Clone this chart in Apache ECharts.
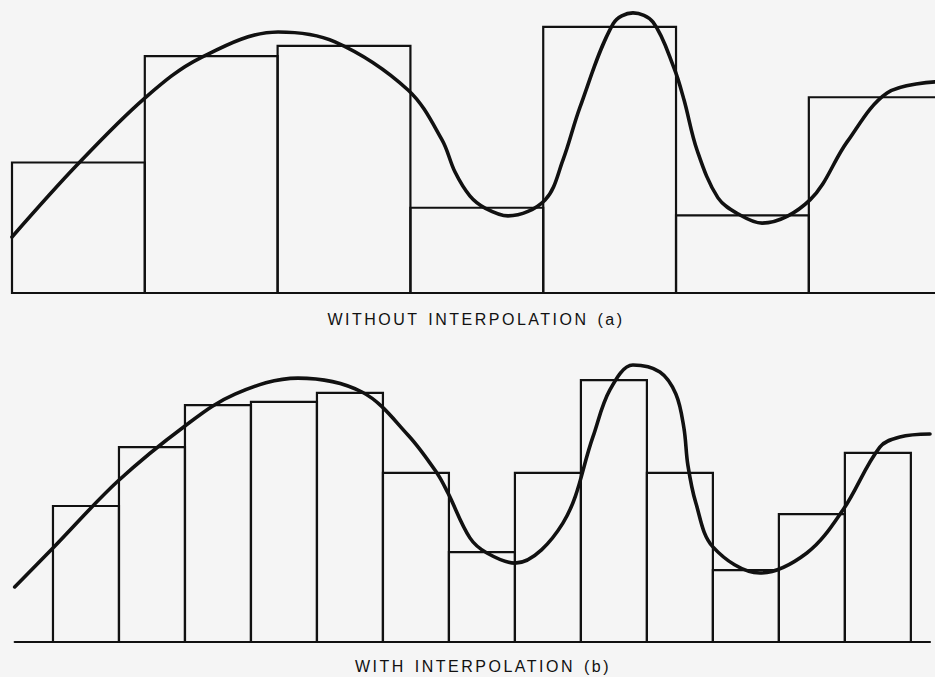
<!DOCTYPE html>
<html>
<head>
<meta charset="utf-8">
<script src="https://cdn.jsdelivr.net/npm/echarts@6/dist/echarts.min.js"></script>
<style>
  html, body { margin: 0; padding: 0; background: #f5f5f5; }
  #chart { width: 935px; height: 677px; }
  /* spaced-out caption lettering */
  #chart svg text { letter-spacing: 2.5px; word-spacing: 2px; }
</style>
</head>
<body>
<div id="chart"></div>
<script>
// (a) coarse histogram: one bin per unit interval
const topBinHeights = [45.0, 81.7, 85.2, 29.4, 91.8, 26.8, 67.5];
// (b) interpolated histogram: twice as many, narrower bins
const bottomBinHeights = [46.9, 67.2, 81.7, 82.8, 85.9, 58.3, 31.0, 58.3, 90.3, 58.3, 24.8, 44.1, 65.2];

// underlying continuous signal, sampled along each panel's x scale
const topCurveX = [0, 0.489, 1.0, 1.416, 2.003, 2.432, 2.982, 3.238, 3.336, 3.449, 3.562, 3.735, 4.014, 4.149, 4.277, 4.526, 4.676, 4.827, 4.985, 5.060, 5.158, 5.316, 5.482, 5.648, 6.009, 6.288, 6.589, 6.95];
const topCurveY = [19.3, 44.1, 67.2, 81.0, 90.0, 86.6, 70.0, 52.8, 41.7, 33.4, 29.3, 26.6, 32.1, 45.9, 64.1, 92.8, 96.6, 93.4, 77.6, 66.6, 49.3, 32.8, 26.9, 24.1, 32.1, 52.1, 69.0, 72.8];

const bottomCurveX = [-0.58, 0, 0.985, 2.0, 2.758, 3.712, 4.682, 5.379, 5.818, 5.985, 6.318, 6.576, 7.0, 7.727, 8.182, 8.439, 8.788, 9.197, 9.439, 9.561, 9.621, 9.742, 10.0, 10.712, 11.424, 11.970, 12.530, 12.833, 13.29];
const bottomCurveY = [19.0, 32.4, 55.5, 74.5, 85.5, 91.0, 86.2, 71.4, 58.3, 51.4, 35.9, 30.7, 27.2, 41.0, 70.7, 86.9, 95.5, 93.1, 85.5, 73.8, 61.0, 47.9, 32.8, 23.8, 30.7, 45.5, 67.2, 70.7, 71.7];

const captions = ['WITHOUT INTERPOLATION (a)', 'WITH INTERPOLATION (b)'];

const INK = '#111111';

function binData(heights) {
  return heights.map((h, i) => [i, i + 1, h]);
}
function curveData(xs, ys) {
  return xs.map((x, i) => [x, ys[i]]);
}

// outlined histogram bins drawn from [start, end, height]
function renderBin(params, api) {
  const base = api.coord([api.value(0), 0]);
  const top = api.coord([api.value(1), api.value(2)]);
  return {
    type: 'rect',
    shape: { x: base[0], y: top[1], width: top[0] - base[0], height: base[1] - top[1] },
    style: { fill: 'none', stroke: INK, lineWidth: 2.2 }
  };
}

const hiddenY = {
  type: 'value', min: 0, max: 100,
  axisLine: { show: false }, axisTick: { show: false },
  axisLabel: { show: false }, splitLine: { show: false }
};
function baseX(min, max) {
  return {
    type: 'value', min: min, max: max,
    axisLine: { show: true, onZero: true, lineStyle: { color: INK, width: 2.2 } },
    axisTick: { show: false }, axisLabel: { show: false }, splitLine: { show: false }
  };
}
function curveSeries(axis, xs, ys) {
  return {
    type: 'line', xAxisIndex: axis, yAxisIndex: axis, data: curveData(xs, ys),
    smooth: 0.35, showSymbol: false, z: 5,
    lineStyle: { color: INK, width: 3.6, cap: 'round', join: 'round' }
  };
}

const chart = echarts.init(document.getElementById('chart'), null, { renderer: 'svg' });
chart.setOption({
  backgroundColor: '#f5f5f5',
  animation: false,
  grid: [
    { left: 12, right: 0, top: 3, bottom: 384 },
    { left: 14.7, right: 5, top: 352, bottom: 35 }
  ],
  xAxis: [
    Object.assign({ gridIndex: 0 }, baseX(0, 6.95)),
    Object.assign({ gridIndex: 1 }, baseX(-0.58, 13.29))
  ],
  yAxis: [
    Object.assign({ gridIndex: 0 }, hiddenY),
    Object.assign({ gridIndex: 1 }, hiddenY)
  ],
  series: [
    { type: 'custom', xAxisIndex: 0, yAxisIndex: 0, renderItem: renderBin, data: binData(topBinHeights), z: 2 },
    { type: 'custom', xAxisIndex: 1, yAxisIndex: 1, renderItem: renderBin, data: binData(bottomBinHeights), z: 2 },
    curveSeries(0, topCurveX, topCurveY),
    curveSeries(1, bottomCurveX, bottomCurveY)
  ],
  graphic: [
    {
      type: 'text', x: 476, y: 319,
      style: { text: captions[0], fill: '#111', font: '16px "Liberation Sans"', align: 'center', verticalAlign: 'middle' }
    },
    {
      type: 'text', x: 483, y: 666,
      style: { text: captions[1], fill: '#111', font: '16px "Liberation Sans"', align: 'center', verticalAlign: 'middle' }
    }
  ]
});
</script>
</body>
</html>
